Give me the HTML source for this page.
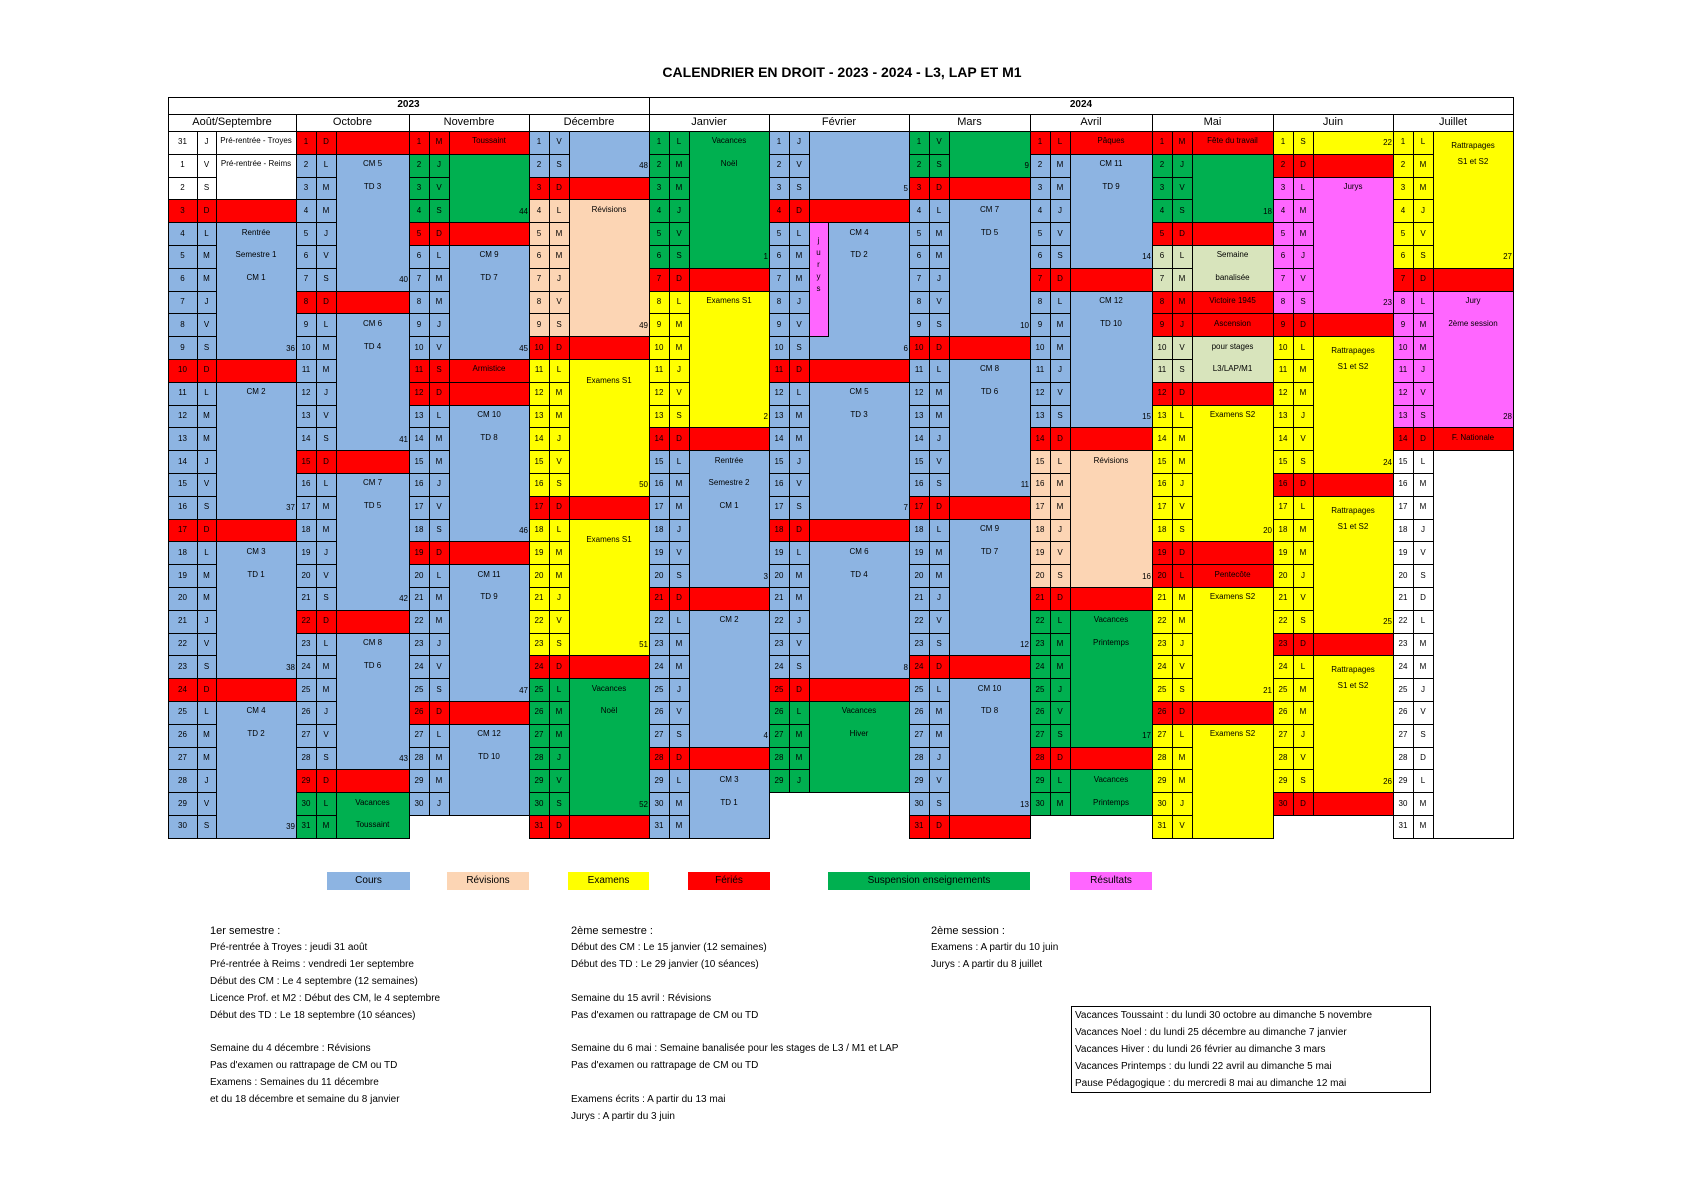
<!DOCTYPE html>
<html><head><meta charset="utf-8">
<style>
html,body{margin:0;padding:0;background:#fff;}
body{width:1684px;height:1191px;position:relative;overflow:hidden;font-family:"Liberation Sans",sans-serif;color:#000;}
.c{position:absolute;box-sizing:border-box;border:1px solid #000;}
.t{position:absolute;white-space:nowrap;font-size:8px;line-height:10px;}
.txt{position:absolute;white-space:nowrap;font-size:10px;line-height:12px;}
</style></head><body>
<div class="txt" style="left:0;width:1684px;text-align:center;top:64px;font-size:14px;line-height:16px;font-weight:bold;">CALENDRIER EN DROIT - 2023 - 2024 - L3, LAP ET M1</div>
<div id="cal"></div>
<div id="legend"></div>
<div id="notes"></div>
<script>
const COL={b:'#8db4e2',r:'#ff0000',g:'#00b050',y:'#ffff00',p:'#fcd5b4',k:'#ff66ff',l:'#d8e4bc',w:'#ffffff'};
const DOW=['L','M','M','J','V','S','D'];
const TOP=131, RH=22.8;
// [name, x, numW, dowW, labelW, firstDay numbers, firstDow, count]
const monthNames=['Août/Septembre','Octobre','Novembre','Décembre','Janvier','Février','Mars','Avril','Mai','Juin','Juillet'];
const monthX=[168,296,409,529,649,769,909,1030,1152,1273,1393];
const monthEnd=[296,409,529,649,769,909,1030,1152,1273,1393,1513];
const monthFirstDow=[3,6,2,4,0,3,4,0,2,5,0];
const monthLen=[31,31,30,31,31,29,31,30,31,30,31];
// blocks: [startDay, endDay, color, texts [[offset,text]], week]
const blocks=[
 [[0,0,'w',[[0,'Pré-rentrée - Troyes']]],[1,2,'w',[[0,'Pré-rentrée - Reims']]],[3,3,'r',[]],[4,9,'b',[[0,'Rentrée'],[1,'Semestre 1'],[2,'CM 1']],36],[10,10,'r',[]],[11,16,'b',[[0,'CM 2']],37],[17,17,'r',[]],[18,23,'b',[[0,'CM 3'],[1,'TD 1']],38],[24,24,'r',[]],[25,30,'b',[[0,'CM 4'],[1,'TD 2']],39]],
 [[1,1,'r',[]],[2,7,'b',[[0,'CM 5'],[1,'TD 3']],40],[8,8,'r',[]],[9,14,'b',[[0,'CM 6'],[1,'TD 4']],41],[15,15,'r',[]],[16,21,'b',[[0,'CM 7'],[1,'TD 5']],42],[22,22,'r',[]],[23,28,'b',[[0,'CM 8'],[1,'TD 6']],43],[29,29,'r',[]],[30,31,'g',[[0,'Vacances'],[1,'Toussaint']]]],
 [[1,1,'r',[[0,'Toussaint']]],[2,4,'g',[],44],[5,5,'r',[]],[6,10,'b',[[0,'CM 9'],[1,'TD 7']],45],[11,11,'r',[[0,'Armistice']]],[12,12,'r',[]],[13,18,'b',[[0,'CM 10'],[1,'TD 8']],46],[19,19,'r',[]],[20,25,'b',[[0,'CM 11'],[1,'TD 9']],47],[26,26,'r',[]],[27,30,'b',[[0,'CM 12'],[1,'TD 10']]]],
 [[1,2,'b',[],48],[3,3,'r',[]],[4,9,'p',[[0,'Révisions']],49],[10,10,'r',[]],[11,16,'y',[[0.5,'Examens S1']],50],[17,17,'r',[]],[18,23,'y',[[0.5,'Examens S1']],51],[24,24,'r',[]],[25,30,'g',[[0,'Vacances'],[1,'Noël']],52],[31,31,'r',[]]],
 [[1,6,'g',[[0,'Vacances'],[1,'Noël']],1],[7,7,'r',[]],[8,13,'y',[[0,'Examens S1']],2],[14,14,'r',[]],[15,20,'b',[[0,'Rentrée'],[1,'Semestre 2'],[2,'CM 1']],3],[21,21,'r',[]],[22,27,'b',[[0,'CM 2']],4],[28,28,'r',[]],[29,31,'b',[[0,'CM 3'],[1,'TD 1']]]],
 [[1,3,'b',[],5],[4,4,'r',[]],[5,10,'b',[[0,'CM 4'],[1,'TD 2']],6],[11,11,'r',[]],[12,17,'b',[[0,'CM 5'],[1,'TD 3']],7],[18,18,'r',[]],[19,24,'b',[[0,'CM 6'],[1,'TD 4']],8],[25,25,'r',[]],[26,29,'g',[[0,'Vacances'],[1,'Hiver']]]],
 [[1,2,'g',[],9],[3,3,'r',[]],[4,9,'b',[[0,'CM 7'],[1,'TD 5']],10],[10,10,'r',[]],[11,16,'b',[[0,'CM 8'],[1,'TD 6']],11],[17,17,'r',[]],[18,23,'b',[[0,'CM 9'],[1,'TD 7']],12],[24,24,'r',[]],[25,30,'b',[[0,'CM 10'],[1,'TD 8']],13],[31,31,'r',[]]],
 [[1,1,'r',[[0,'Pâques']]],[2,6,'b',[[0,'CM 11'],[1,'TD 9']],14],[7,7,'r',[]],[8,13,'b',[[0,'CM 12'],[1,'TD 10']],15],[14,14,'r',[]],[15,20,'p',[[0,'Révisions']],16],[21,21,'r',[]],[22,27,'g',[[0,'Vacances'],[1,'Printemps']],17],[28,28,'r',[]],[29,30,'g',[[0,'Vacances'],[1,'Printemps']]]],
 [[1,1,'r',[[0,'Fête du travail']]],[2,4,'g',[],18],[5,5,'r',[]],[6,7,'l',[[0,'Semaine'],[1,'banalisée']]],[8,8,'r',[[0,'Victoire 1945']]],[9,9,'r',[[0,'Ascension']]],[10,11,'l',[[0,'pour stages'],[1,'L3/LAP/M1']]],[12,12,'r',[]],[13,18,'y',[[0,'Examens S2']],20],[19,19,'r',[]],[20,20,'r',[[0,'Pentecôte']]],[21,25,'y',[[0,'Examens S2']],21],[26,26,'r',[]],[27,31,'y',[[0,'Examens S2']]]],
 [[1,1,'y',[],22],[2,2,'r',[]],[3,8,'k',[[0,'Jurys']],23],[9,9,'r',[]],[10,15,'y',[[0.2,'Rattrapages'],[0.9,'S1 et S2']],24],[16,16,'r',[]],[17,22,'y',[[0.2,'Rattrapages'],[0.9,'S1 et S2']],25],[23,23,'r',[]],[24,29,'y',[[0.2,'Rattrapages'],[0.9,'S1 et S2']],26],[30,30,'r',[]]],
 [[1,6,'y',[[0.2,'Rattrapages'],[0.9,'S1 et S2']],27],[7,7,'r',[]],[8,13,'k',[[0,'Jury'],[1,'2ème session']],28],[14,14,'r',[[0,'F. Nationale']]],[15,31,'w',[]]]
];
const cal=document.getElementById('cal');
function ry(r){return Math.round(TOP+r*RH);}
function box(x,y,w,h,bg){const d=document.createElement('div');d.className='c';d.style.left=x+'px';d.style.top=y+'px';d.style.width=(w+1)+'px';d.style.height=(h+1)+'px';d.style.background=bg;cal.appendChild(d);return d;}
function txt(x,y,w,s,align,parent){const d=document.createElement('div');d.className='t';d.style.left=x+'px';d.style.top=y+'px';d.style.width=w+'px';d.style.textAlign=align||'center';d.textContent=s;cal.appendChild(d);return d;}
// year and month headers
let yb=box(168,97,481,17,'#fff');


let yt=txt(168,100,481,'2023');yt.style.fontWeight='bold';yt.style.fontSize='10px';
let yb2=box(649,97,864,17,'#fff');


let yt2=txt(649,100,864,'2024');yt2.style.fontWeight='bold';yt2.style.fontSize='10px';
monthNames.forEach((n,i)=>{
 const hb=box(monthX[i],114,monthEnd[i]-monthX[i],17,'#fff');
 
 
 const t=txt(monthX[i],116,monthEnd[i]-monthX[i],n);t.style.fontSize='11px';t.style.lineHeight='12px';
});
blocks.forEach((bl,mi)=>{
 const x0=monthX[mi];
 const nw=mi===0?29:20, dw=mi===0?19:20;
 const lx=x0+nw+dw, lw=monthEnd[mi]-lx;
 const off=mi===0?0:1; // row = day - off
 bl.forEach(b=>{
  const r0=b[0]-off,r1=b[1]-off,c=COL[b[2]];
  const lb=box(lx,ry(r0),lw,ry(r1+1)-ry(r0),c);
  
  
  b[3].forEach(tt=>{txt(lx,Math.round(TOP+(r0+tt[0]+0.5)*RH-6),lw,tt[1]);});
  if(b[4]!==undefined){txt(lx,Math.round(TOP+(r1+0.5)*RH-4),lw-1,String(b[4]),'right');}
  for(let r=r0;r<=r1;r++){
   const day=mi===0?(r===0?31:r):r+1;
   const dow=(monthFirstDow[mi]+r)%7;
   const nb=box(x0,ry(r),nw,ry(r+1)-ry(r),c);
   
   
   const db=box(x0+nw,ry(r),dw,ry(r+1)-ry(r),c);
   
   
   txt(x0,Math.round(TOP+(r+0.5)*RH-5),nw,String(day));
   txt(x0+nw,Math.round(TOP+(r+0.5)*RH-5),dw,DOW[dow]);
  }
 });
});
// Feb jurys column
const jb=box(809,ry(4),19,ry(9)-ry(4),COL.k);


'jurys'.split('').forEach((ch,i)=>{txt(809,ry(4)+14+i*12,19,ch);});
// legend
const legItems=[['Cours','b',327,410],['Révisions','p',447,529],['Examens','y',568,649],['Fériés','r',688,770],['Suspension enseignements','g',828,1030],['Résultats','k',1070,1152]];
const leg=document.getElementById('legend');
legItems.forEach(l=>{
 const d=document.createElement('div');
 
 
 d.className='txt';d.style.cssText+=`left:${l[2]}px;top:872px;width:${l[3]-l[2]}px;height:18px;line-height:18px;text-align:center;background:${COL[l[1]]};font-size:10px;`;
 d.textContent=l[0];leg.appendChild(d);
});
// notes
const notes=document.getElementById('notes');
const col1=['1er semestre :','Pré-rentrée à Troyes : jeudi 31 août','Pré-rentrée à Reims : vendredi 1er septembre','Début des CM : Le 4 septembre (12 semaines)','Licence Prof. et M2 : Début des CM, le 4 septembre','Début des TD : Le 18 septembre (10 séances)','','Semaine du 4 décembre : Révisions',"Pas d'examen ou rattrapage de CM ou TD",'Examens : Semaines du 11 décembre','et du 18 décembre et semaine du 8 janvier'];
const col2=['2ème semestre :','Début des CM : Le 15 janvier (12 semaines)','Début des TD : Le 29 janvier (10 séances)','','Semaine du 15 avril : Révisions',"Pas d'examen ou rattrapage de CM ou TD",'','Semaine du 6 mai : Semaine banalisée pour les stages de L3 / M1 et LAP',"Pas d'examen ou rattrapage de CM ou TD",'','Examens écrits : A partir du 13 mai','Jurys : A partir du 3 juin'];
const col3=['2ème session :','Examens : A partir du 10 juin','Jurys : A partir du 8 juillet'];
[[col1,210],[col2,571],[col3,931]].forEach(([lines,x])=>{
 lines.forEach((s,i)=>{
  const d=document.createElement('div');
  
  
  d.className='txt';d.style.left=x+'px';d.style.top=(925+i*16.9)+'px';
  if(i===0){d.style.fontSize='11px';}
  d.textContent=s;notes.appendChild(d);
 });
});
const vb=document.createElement('div');


vb.style.cssText='position:absolute;left:1071px;top:1006px;width:360px;height:87px;border:1px solid #000;box-sizing:border-box;';
notes.appendChild(vb);
['Vacances Toussaint : du lundi 30 octobre au dimanche 5 novembre','Vacances Noel : du lundi 25 décembre au dimanche 7 janvier','Vacances Hiver : du lundi 26 février au dimanche 3 mars','Vacances Printemps : du lundi 22 avril au dimanche 5 mai','Pause Pédagogique : du mercredi 8 mai au dimanche 12 mai'].forEach((s,i)=>{
 const d=document.createElement('div');
 
 
 d.className='txt';d.style.left='1075px';d.style.top=(1010+i*17.1)+'px';
 d.textContent=s;notes.appendChild(d);
});
</script>
</body></html>
